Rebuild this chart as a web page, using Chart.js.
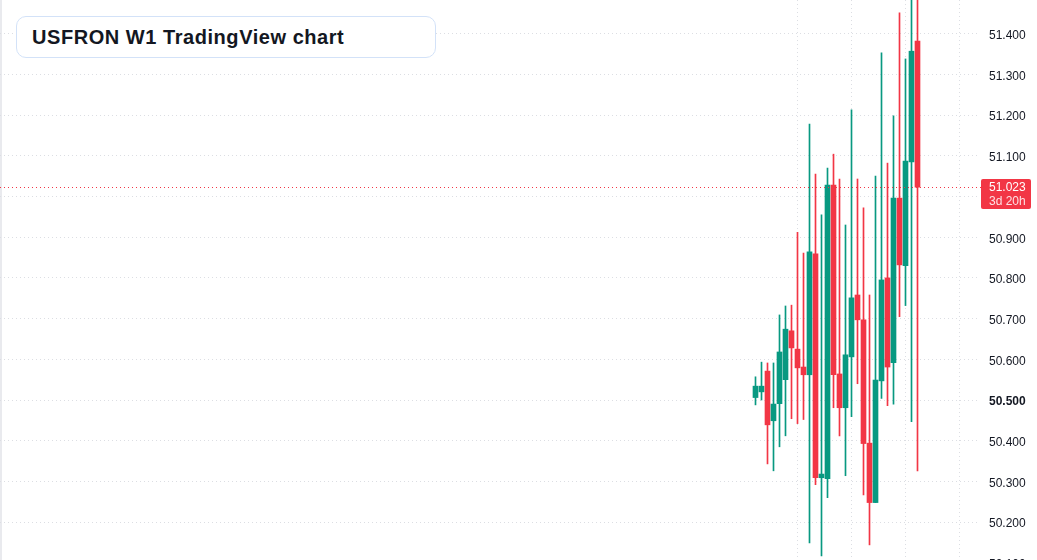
<!DOCTYPE html>
<html>
<head>
<meta charset="utf-8">
<script src="https://cdn.jsdelivr.net/npm/chart.js@4.4.1/dist/chart.umd.min.js"></script>
<style>
  html, body { margin: 0; padding: 0; background: #ffffff; overflow: hidden; width: 1037px; height: 560px; }
  #wrap { position: relative; width: 1037px; height: 560px; overflow: hidden; }
  canvas { position: absolute; left: 0; top: 0; }
  #title {
    position: absolute; left: 16px; top: 16px; width: 418px; height: 40px;
    border: 1px solid #d3e2f8; border-radius: 10px; background: #ffffff;
    display: flex; align-items: center; box-sizing: content-box;
    font-family: "Liberation Sans", Arial, sans-serif; font-weight: bold; font-size: 20px;
    letter-spacing: 0.55px; color: #131722; padding-left: 0;
  }
  #title span { margin-left: 15px; }
</style>
</head>
<body>
<div id="wrap">
  <canvas id="c" width="1037" height="580"></canvas>
  <div id="title"><span>USFRON W1 TradingView chart</span></div>
</div>
<script>
// ---- data (weekly candles) ----
const candleSlots = [0, 1, 2, 3, 4, 5, 6, 7, 8, 9, 10, 11, 12, 13, 14, 15, 16, 17, 18, 19, 20, 21, 22, 23, 24, 25, 26, 27];
const opens  = [50.506, 50.520, 50.571, 50.449, 50.491, 50.550, 50.670, 50.625, 50.581, 50.562, 50.859, 50.309, 50.307, 51.028, 50.564, 50.481, 50.606, 50.758, 50.697, 50.394, 50.248, 50.547, 50.800, 50.592, 50.996, 50.830, 51.085, 51.382];
const highs  = [50.557, 50.593, 50.591, 50.591, 50.709, 50.731, 50.733, 50.912, 50.861, 51.178, 51.055, 50.955, 51.070, 51.104, 51.043, 50.930, 51.213, 51.043, 50.972, 50.758, 51.050, 51.353, 51.082, 51.198, 51.451, 51.338, 51.520, 51.530];
const lows   = [50.488, 50.500, 50.343, 50.326, 50.385, 50.412, 50.454, 50.442, 50.452, 50.149, 50.292, 50.117, 50.260, 50.481, 50.412, 50.314, 50.459, 50.540, 50.267, 50.144, 50.248, 50.504, 50.486, 50.490, 50.705, 50.732, 50.447, 50.326];
const closes = [50.534, 50.534, 50.439, 50.490, 50.618, 50.674, 50.628, 50.579, 50.562, 50.864, 50.309, 50.318, 51.028, 50.562, 50.481, 50.611, 50.751, 50.697, 50.393, 50.248, 50.549, 50.795, 50.581, 50.996, 50.832, 51.087, 51.357, 51.023];
const yTickValues = [50.1, 50.2, 50.3, 50.4, 50.5, 50.6, 50.7, 50.8, 50.9, 51.0, 51.1, 51.2, 51.3, 51.4];
const timeGridSlots = [7, 16, 25, 34];
const lastPrice = 51.023;
const countdownText = "3d 20h";

// ---- styling ----
const UP = '#089981', DOWN = '#f23645';
const FONT = '"Liberation Sans", Arial, sans-serif';
const colors = opens.map((o, i) => closes[i] >= o ? UP : DOWN);

const wickData = candleSlots.map((s, i) => ({ x: s, y: [lows[i], highs[i]] }));
const bodyData = candleSlots.map((s, i) => ({ x: s, y: [Math.min(opens[i], closes[i]), Math.max(opens[i], closes[i])] }));

const decor = {
  id: 'decor',
  beforeDraw(chart) {
    const ctx = chart.ctx;
    ctx.save();
    ctx.fillStyle = '#e9eaee';
    ctx.fillRect(0, 0, 2, chart.height);
    ctx.restore();
  },
  afterDraw(chart) {
    const ctx = chart.ctx;
    const y = chart.scales.y.getPixelForValue(lastPrice);
    const yy = Math.round(y) + 0.5;
    ctx.save();
    ctx.strokeStyle = DOWN;
    ctx.lineWidth = 1;
    ctx.setLineDash([1, 3]);
    ctx.beginPath();
    ctx.moveTo(0, yy);
    ctx.lineTo(981, yy);
    ctx.stroke();
    ctx.setLineDash([]);
    // price label box
    const top = Math.round(y) - 8, h = 30, left = 981, w = 50;
    ctx.fillStyle = DOWN;
    ctx.beginPath();
    if (ctx.roundRect) ctx.roundRect(left, top, w, h, 2); else ctx.rect(left, top, w, h);
    ctx.fill();
    ctx.font = '12px ' + FONT;
    ctx.textAlign = 'left';
    ctx.textBaseline = 'middle';
    ctx.fillStyle = '#ffffff';
    ctx.fillText(lastPrice.toFixed(3), 989, top + 9);
    ctx.fillStyle = 'rgba(255,255,255,0.85)';
    ctx.fillText(countdownText, 989, top + 22.5);
    ctx.restore();
  }
};

new Chart(document.getElementById('c'), {
  type: 'bar',
  data: {
    datasets: [
      { data: wickData, backgroundColor: colors, barThickness: 1, grouped: false, borderWidth: 0, order: 2 },
      { data: bodyData, backgroundColor: colors, barThickness: 5, grouped: false, borderWidth: 0, order: 1 }
    ]
  },
  options: {
    responsive: false,
    animation: false,
    events: [],
    layout: { padding: 0 },
    plugins: { legend: { display: false }, tooltip: { enabled: false }, title: { display: false } },
    scales: {
      x: {
        type: 'linear',
        offset: false,
        min: -755.5 / 6,
        max: (978 - 755.5) / 6,
        afterBuildTicks: (s) => { s.ticks = timeGridSlots.map(v => ({ value: v })); },
        afterFit: (s) => { s.height = 0; s.paddingLeft = 0; s.paddingRight = 0; },
        ticks: { display: false },
        grid: { color: '#dcdee3', lineWidth: 1, drawTicks: false, offset: false },
        border: { display: false, dash: [1, 3] }
      },
      y: {
        position: 'right',
        min: 50.5 - 180 / 407,
        max: 50.5 + 400 / 407,
        afterBuildTicks: (s) => { s.ticks = yTickValues.map(v => ({ value: v })); },
        afterFit: (s) => { s.width = 59; s.paddingTop = 0; s.paddingBottom = 0; },
        ticks: {
          padding: 11,
          crossAlign: 'near',
          labelOffset: 2,
          color: '#131722',
          font: (c) => ({ family: FONT, size: 12, weight: (c.tick && Math.abs(c.tick.value - 50.5) < 1e-9) ? 'bold' : 'normal' }),
          callback: (v) => Number(v).toFixed(3)
        },
        grid: { color: '#dcdee3', lineWidth: 1, drawTicks: false },
        border: { display: false, dash: [1, 3] }
      }
    }
  },
  plugins: [decor]
});
</script>
</body>
</html>
